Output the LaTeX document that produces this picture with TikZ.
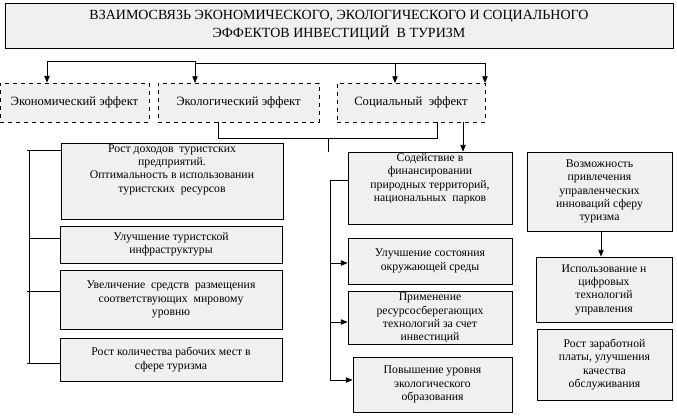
\documentclass[tikz,border=0pt]{standalone}
\usepackage{fontspec}
\setmainfont{Liberation Serif}
\usetikzlibrary{arrows.meta}
\tikzset{
  box/.style={draw, fill=gray!12, align=center, font=\fontsize{8.8}{10}\selectfont, inner sep=1pt},
  dbox/.style={box, dashed, font=\fontsize{9.5}{11}\selectfont},
  arr/.style={-{Triangle[length=5pt,width=4pt]}}
}
\begin{document}
\begin{tikzpicture}[x=0.75pt,y=-0.75pt,line width=0.6pt]
    \useasboundingbox (0,0) rectangle (677,415);

    \node[box, minimum width=668*0.75pt, minimum height=45*0.75pt, font=\fontsize{10.5}{14}\selectfont] (title) at (339,25.5)
        {ВЗАИМОСВЯЗЬ ЭКОНОМИЧЕСКОГО, ЭКОЛОГИЧЕСКОГО И СОЦИАЛЬНОГО\\ЭФФЕКТОВ ИНВЕСТИЦИЙ \ В ТУРИЗМ};

    \node[dbox, minimum width=149*0.75pt, minimum height=39*0.75pt] (econ) at (74.5,102.5) {Экономический эффект};
    \node[dbox, minimum width=161*0.75pt, minimum height=39*0.75pt] (ecol) at (238.5,102.5) {Экологический эффект};
    \node[dbox, minimum width=148*0.75pt, minimum height=39*0.75pt] (soc) at (411,102.5) {Социальный \ эффект};

    % economic column
    \node[box, minimum width=222*0.75pt, minimum height=76*0.75pt] (e1) at (172,181)
        {Рост доходов \ туристских\\предприятий.\\Оптимальность в использовании\\туристских \ ресурсов\\[9pt]};
    \node[box, minimum width=222*0.75pt, minimum height=37*0.75pt] (e2) at (171,244.5)
        {Улучшение туристской\\инфраструктуры};
    \node[box, minimum width=222*0.75pt, minimum height=59*0.75pt] (e3) at (171,299.5)
        {Увеличение \ средств \ размещения\\соответствующих \ мировому\\уровню};
    \node[box, minimum width=222*0.75pt, minimum height=43*0.75pt] (e4) at (171,359.5)
        {Рост количества рабочих мест в\\сфере туризма};

    % ecological column
    \node[box, minimum width=164*0.75pt, minimum height=72*0.75pt] (c1) at (430,188)
        {Содействие в\\финансировании\\природных территорий,\\национальных \ парков\\[6pt]};
    \node[box, minimum width=164*0.75pt, minimum height=46*0.75pt] (c2) at (430,261)
        {Улучшение состояния\\окружающей среды};
    \node[box, minimum width=164*0.75pt, minimum height=52*0.75pt] (c3) at (430,318)
        {Применение\\ресурсосберегающих\\технологий за счет\\инвестиций};
    \node[box, minimum width=159*0.75pt, minimum height=55*0.75pt] (c4) at (432.5,384.5)
        {Повышение уровня\\экологического\\образования};

    % social column
    \node[box, minimum width=145*0.75pt, minimum height=79*0.75pt] (s1) at (599.5,191.5)
        {Возможность\\привлечения\\управленческих\\инноваций сферу\\туризма};
    \node[box, minimum width=136*0.75pt, minimum height=65*0.75pt] (s2) at (604,289.5)
        {Использование н\\цифровых\\технологий\\управления};
    \node[box, minimum width=135*0.75pt, minimum height=71*0.75pt] (s3) at (604.5,364.5)
        {Рост заработной\\платы, улучшения\\качества\\обслуживания};

    % title to effects
    \coordinate (t1) at (47,61);
    \coordinate (t2) at (485,63);
    \draw (t1) -- (195,61) -- (195,63) -- (t2);
    \draw[arr] (t1) -- (econ.north -| t1);
    \draw[arr] (195,61) -- (195,83);
    \draw[arr] (395,63) -- (395,83);
    \draw[arr] (t2) -- (485,83);

    % brace under ecol and social
    \coordinate (b1) at (328,138);
    \draw (218,122) -- (218,138) -- (437,138) -- (437,122);
    \draw (b1) -- (c1.north -| b1);
    \coordinate (b2) at (463,122);
    \draw[arr] (b2) -- (s1.north -| b2);
    \coordinate (b3) at (601,231);
    \draw[arr] (b3) -- (s2.north -| b3);

    % economic bracket
    \coordinate (l1) at (27,150);
    \coordinate (l2) at (29,238);
    \coordinate (l3) at (27,291);
    \coordinate (l4) at (27,363);
    \draw (29,150) -- (29,363);
    \draw (l1) -- (e1.west |- l1);
    \draw (l2) -- (e2.west |- l2);
    \draw (l3) -- (e3.west |- l3);
    \draw (l4) -- (e4.west |- l4);

    % ecological bracket
    \coordinate (m1) at (330,180);
    \coordinate (m2) at (330,263);
    \coordinate (m3) at (330,322);
    \coordinate (m4) at (330,380);
    \draw (m1) -- (m4);
    \draw (m1) -- (c1.west |- m1);
    \draw[arr] (m2) -- (c2.west |- m2);
    \draw[arr] (m3) -- (c3.west |- m3);
    \draw[arr] (m4) -- (c4.west |- m4);
\end{tikzpicture}
\end{document}
